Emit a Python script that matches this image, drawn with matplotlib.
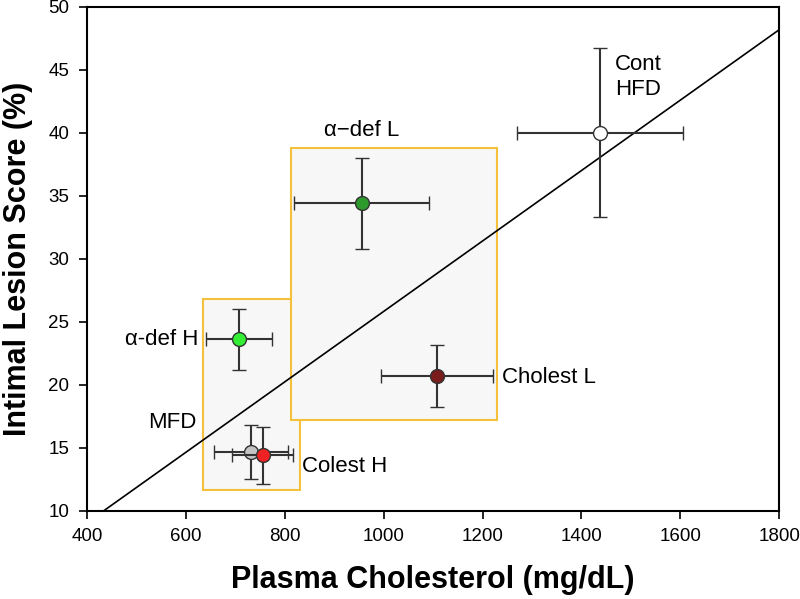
import matplotlib
matplotlib.use('Agg')
import matplotlib.pyplot as plt
from matplotlib.patches import Rectangle

plt.rcParams['font.family'] = ['Liberation Sans', 'DejaVu Sans']

# group means and errors
groups = ['Cont HFD', 'α-def L', 'α-def H', 'MFD', 'Colest H', 'Cholest L']
chol = [1438, 955, 707, 732, 755, 1108]
chol_err = [168, 136, 66, 75, 62, 113]
lesion = [40.0, 34.4, 23.6, 14.7, 14.4, 20.7]
lesion_err = [6.7, 3.6, 2.45, 2.15, 2.27, 2.45]
colors = ['#ffffff', '#2e9a2e', '#33ee33', '#c4c4c4', '#ee2222', '#7a1c1c']

# regression line
fit_slope = 0.02792
fit_intercept = -2.09
fit_x = [433, 1800]

# highlight boxes: (x0, y0, x1, y1)
boxes = [(634, 11.7, 830, 26.8), (812, 17.2, 1230, 38.8)]

# point labels: text, x, y, ha
labels = [('Cont', 1468, 45.4, 'left'), ('HFD', 1468, 43.4, 'left'),
          ('α−def L', 956, 40.2, 'center'), ('α-def H', 625, 23.6, 'right'),
          ('MFD', 622, 17.0, 'right'), ('Cholest L', 1240, 20.6, 'left'),
          ('Colest H', 835, 13.5, 'left')]

fig = plt.figure(figsize=(8, 5.99), dpi=100)
ax = fig.add_axes([0.109, 0.147, 0.865, 0.842])

# shaded boxes behind everything
for x0, y0, x1, y1 in boxes:
    ax.add_patch(Rectangle((x0, y0), x1 - x0, y1 - y0, facecolor='#f7f7f7',
                           edgecolor='#f5c03a', linewidth=1.5, zorder=1))

ax.plot(fit_x, [fit_slope * v + fit_intercept for v in fit_x], color='black', lw=1.2, zorder=2)

for i in range(len(groups)):
    ax.errorbar(chol[i], lesion[i], xerr=chol_err[i], yerr=lesion_err[i], fmt='o',
                color='#333333', ecolor='#333333', elinewidth=1.5, capsize=5, capthick=1.5,
                markersize=10, markerfacecolor=colors[i], markeredgecolor='#333333',
                markeredgewidth=1, zorder=3 + i)

for txt, x, y, ha in labels:
    ax.text(x, y, txt, ha=ha, va='center', fontsize=16, zorder=10)

ax.set_xlim(400, 1800)
ax.set_ylim(10, 50)
ax.set_xticks(range(400, 1801, 200))
ax.set_yticks(range(10, 51, 5))
ax.tick_params(direction='out', length=6, width=1.2, labelsize=13.5)
ax.tick_params(axis='y', pad=7)
ax.tick_params(axis='x', pad=6)
for s in ax.spines.values():
    s.set_linewidth(1.5)

ax.set_xlabel('Plasma Cholesterol (mg/dL)', fontsize=22, fontweight='bold', labelpad=15)
ax.set_ylabel('Intimal Lesion Score (%)', fontsize=22, fontweight='bold', labelpad=11)

fig.savefig('out.png', dpi=100)
